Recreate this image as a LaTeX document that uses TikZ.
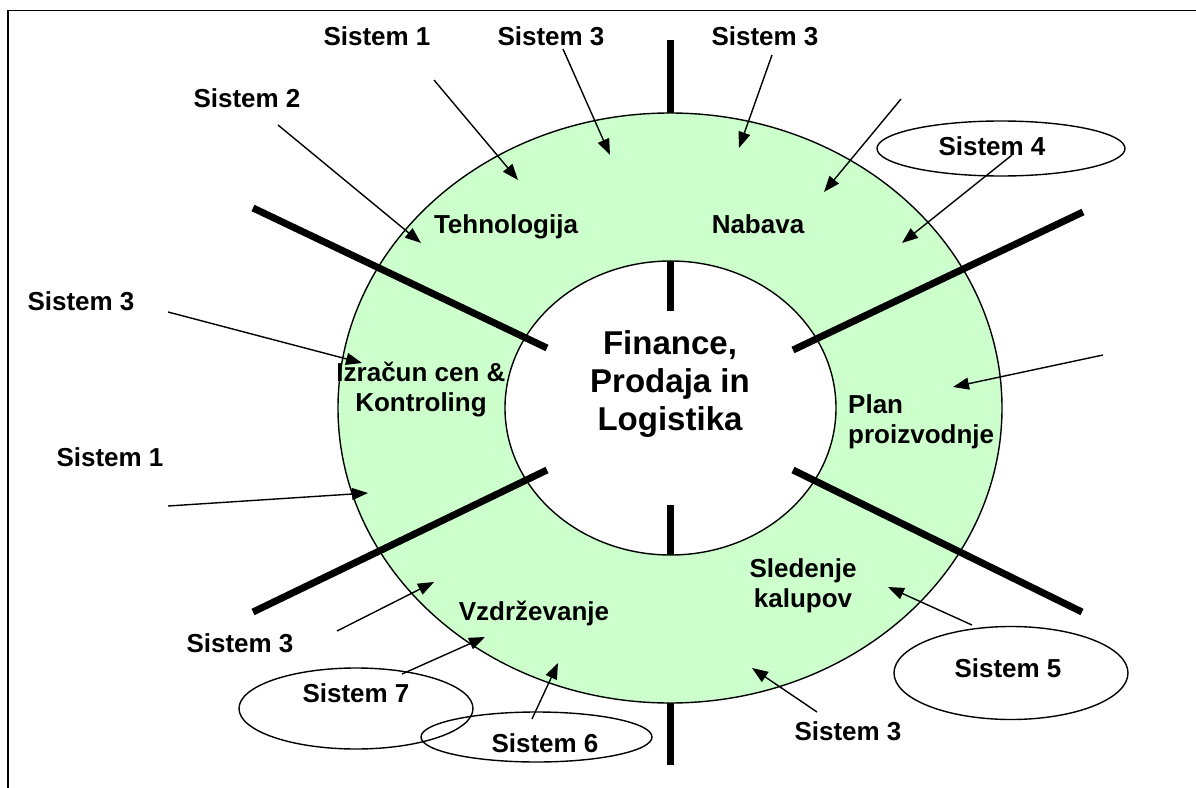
\documentclass[tikz,border=0pt]{standalone}
\usepackage{fontspec}
\setmainfont{Liberation Sans}
\usetikzlibrary{arrows.meta,shapes.geometric}
\definecolor{ringgreen}{RGB}{204,255,204}

\begin{document}
\begin{tikzpicture}[x=1bp,y=-1bp,
  lbl/.style={font=\bfseries\fontsize{26bp}{30bp}\selectfont, inner sep=0pt, anchor=base, align=center},
  hub/.style={font=\bfseries\fontsize{33bp}{38bp}\selectfont, inner sep=0pt, anchor=base, align=center},
  divider/.style={line width=7bp},
  feed/.style={line width=1.4bp, -{Triangle[length=16bp,width=12bp]}},
  sysring/.style={draw, ellipse, line width=1.4bp, inner sep=0pt, outer sep=0pt}
]
\useasboundingbox (0,0) rectangle (1196,788);

% frame (top and left edges)
\draw[line width=1.5bp] (8,790) -- (8,10.5) -- (1200,10.5);

% vertical dividers, partly hidden by the ring
\draw[divider] (670.5,40) -- (670.5,311);
\draw[divider] (670.5,505) -- (670.5,765);

% green ring
\fill[ringgreen, even odd rule] (670,408) ellipse [x radius=332, y radius=295]
                                (670.5,408) ellipse [x radius=165.5, y radius=147];
\node[sysring, minimum width=664bp, minimum height=590bp] (outer) at (670,408) {};
\node[sysring, minimum width=331bp, minimum height=294bp] (inner) at (670.5,408) {};

% diagonal dividers
\draw[divider] (253,208) -- (547,348);
\draw[divider] (253,612) -- (547,470);
\draw[divider] (793,350) -- (1083,212);
\draw[divider] (793,470) -- (1082,612);

% centre (multi-line nodes sit on the baseline of their last line)
\node[hub] (core) at (670,430) {Finance,\\Prodaja in\\Logistika};

% ring sectors
\node[lbl] (teh) at (506,233) {Tehnologija};
\node[lbl] (nab) at (758,233) {Nabava};
\node[lbl] (izr) at (421,411) {Izračun cen \&\\Kontroling};
\node[lbl, anchor=base west, align=left] (plan) at (848,443) {Plan\\proizvodnje};
\node[lbl] (sled) at (803,607) {Sledenje\\kalupov};
\node[lbl] (vzd) at (534,620) {Vzdrževanje};

% system labels
\node[lbl] (s1t) at (377,46) {Sistem 1};
\node[lbl] (s3m) at (551,46) {Sistem 3};
\node[lbl] (s3r) at (765,46) {Sistem 3};
\node[lbl] (s2) at (247,108) {Sistem 2};
\node[lbl] (s3l) at (81,310) {Sistem 3};
\node[lbl] (s1l) at (110,466) {Sistem 1};
\node[lbl] (s3bl) at (240,652) {Sistem 3};
\node[lbl] (s3br) at (848,740) {Sistem 3};

\node[sysring, minimum width=248bp, minimum height=55bp] (e4) at (1001,148.5) {};
\node[lbl] (s4) at (992,155) {Sistem 4};
\node[sysring, minimum width=234bp, minimum height=93bp] (e5) at (1011,673) {};
\node[lbl] (s5) at (1008,677) {Sistem 5};
\node[sysring, minimum width=234bp, minimum height=81bp] (e7) at (356,708.5) {};
\node[lbl] (s7) at (356,702) {Sistem 7};
\node[sysring, minimum width=231bp, minimum height=50bp] (e6) at (536.5,737) {};
\node[lbl] (s6) at (545,752) {Sistem 6};

% arrow ends
\coordinate (a1s) at (434,80);   \coordinate (a1e) at (518,180);
\coordinate (a2s) at (563,49);   \coordinate (a2e) at (610,155);
\coordinate (a3s) at (772,55);   \coordinate (a3e) at (739,148);
\coordinate (a4s) at (901,99);   \coordinate (a4e) at (824,192);
\coordinate (a5s) at (1012,155); \coordinate (a5e) at (902,243);
\coordinate (a6s) at (278,125);  \coordinate (a6e) at (421,243);
\coordinate (a7s) at (168,312);  \coordinate (a7e) at (362,363);
\coordinate (a8s) at (168,506);  \coordinate (a8e) at (368,493);
\coordinate (a9s) at (1103,355); \coordinate (a9e) at (953,387);
\coordinate (a10s) at (972,625); \coordinate (a10e) at (888,587);
\coordinate (a11s) at (817,712); \coordinate (a11e) at (752,668);
\coordinate (a12s) at (532,719); \coordinate (a12e) at (558,663);
\coordinate (a13s) at (402,674); \coordinate (a13e) at (485,637);
\coordinate (a14s) at (337,631); \coordinate (a14e) at (434,582);

\foreach \k in {1,...,14} {
  \draw[feed] (a\k s) -- (a\k e);
}
\end{tikzpicture}
\end{document}
